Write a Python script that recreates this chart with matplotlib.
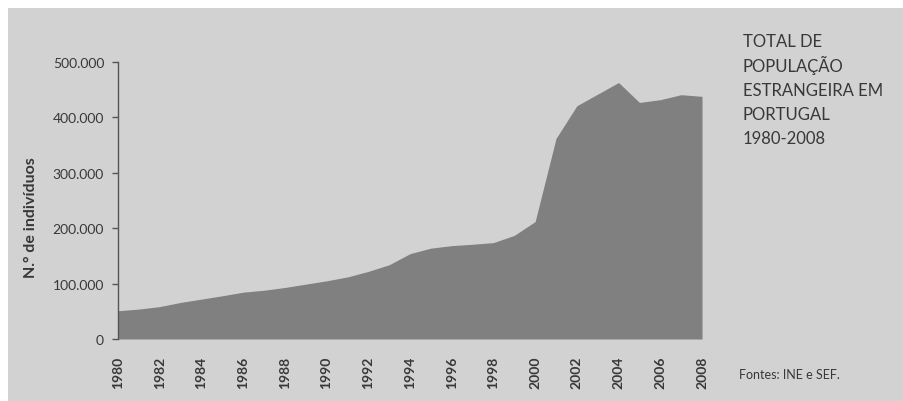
import matplotlib.pyplot as plt
from matplotlib.patches import Rectangle

years = list(range(1980, 2009))
population = [51000, 54000, 58500, 66000, 72000, 78000, 84500, 88000, 93000, 99000,
              105000, 112000, 122000, 134000, 154000, 164000, 168500, 171000, 174000,
              187000, 212000, 362000, 421000, 442000, 463000, 427000, 432000, 441000,
              438000]
y_ticks = [0, 100000, 200000, 300000, 400000, 500000]
y_labels = ["0", "100.000", "200.000", "300.000", "400.000", "500.000"]
x_ticks = list(range(1980, 2009, 2))
title_lines = ["TOTAL DE", "POPULAÇÃO", "ESTRANGEIRA EM", "PORTUGAL", "1980-2008"]

BG = "#d2d2d2"
FILL = "#808080"
TXT = "#383838"


def main():
    plt.rcParams["font.family"] = ["Lato", "DejaVu Sans"]
    fig = plt.figure(figsize=(9.04, 4.02), dpi=100)
    fig.patch.set_facecolor("white")
    # scanned page background, white strip at top and left
    fig.patches.append(Rectangle((8 / 904, 0), 1, (402 - 9) / 402,
                                 transform=fig.transFigure, facecolor=BG,
                                 edgecolor="none", zorder=-10))

    ax = fig.add_axes([118 / 904, 62 / 402, (702 - 118) / 904, (339 - 62) / 402])
    ax.set_facecolor("none")
    ax.fill_between(years, population, 0, color=FILL, linewidth=0)
    ax.set_xlim(1980, 2008)
    ax.set_ylim(0, 500000)

    ax.set_yticks(y_ticks)
    ax.set_yticklabels(y_labels)
    ax.set_xticks(x_ticks)
    ax.set_xticklabels([str(y) for y in x_ticks], rotation=90, fontweight="bold")
    ax.tick_params(axis="y", length=4, width=1, color="#555555", pad=6,
                   labelsize=10, labelcolor=TXT)
    ax.tick_params(axis="x", length=0, pad=12, labelsize=10, labelcolor=TXT)

    for s in ["top", "right", "bottom"]:
        ax.spines[s].set_visible(False)
    ax.spines["left"].set_color("#555555")
    ax.spines["left"].set_linewidth(1)

    fig.text(31 / 904, 1 - 218 / 402, "N.° de indivíduos", rotation=90,
             ha="center", va="center", fontsize=11.5, fontweight="bold", color=TXT)

    for i, line in enumerate(title_lines):
        fig.text(743 / 904, 1 - (47.3 + i * 24.25) / 402, line, ha="left",
                 va="baseline", fontsize=12, color=TXT)

    fig.text(739 / 904, 1 - 379 / 402, "Fontes: INE e SEF.", ha="left",
             va="baseline", fontsize=9, color=TXT)

    fig.savefig("out.png", dpi=100, facecolor=fig.get_facecolor())


if __name__ == "__main__":
    main()
